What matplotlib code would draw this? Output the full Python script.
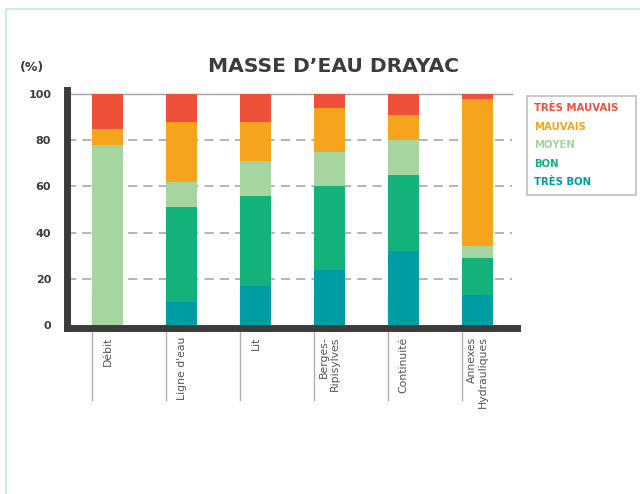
import matplotlib
matplotlib.use("Agg")
import matplotlib.pyplot as plt
from matplotlib.lines import Line2D
from matplotlib.patches import Patch

categories = ["Débit", "Ligne d'eau", "Lit", "Berges-\nRipisylves", "Continuité", "Annexes\nHydrauliques"]
tres_bon = [0, 10, 17, 24, 32, 13]
bon = [0, 41, 39, 36, 33, 16]
moyen = [78, 11, 15, 15, 15, 5]
mauvais = [7, 26, 17, 19, 11, 64]
tres_mauvais = [15, 12, 12, 6, 9, 2]
series_names = ["TRÈS BON", "BON", "MOYEN", "MAUVAIS", "TRÈS MAUVAIS"]
yticks = [0, 20, 40, 60, 80, 100]

colors = ["#009DA4", "#13B27A", "#A6D5A0", "#F6A41D", "#EE5039"]
dark = "#3c3c3c"

W, H = 640, 494
fig = plt.figure(figsize=(6.4, 4.94), dpi=100)

# light blue frame lines
fig.add_artist(Line2D([6 / W, 1], [1 - 9 / H, 1 - 9 / H], transform=fig.transFigure, color="#cbe9ef", lw=1.6))
fig.add_artist(Line2D([6 / W, 6 / W], [0, 1 - 9 / H], transform=fig.transFigure, color="#cbe9ef", lw=1.6))

ax_left, ax_right = 66.5, 517
ax_top, ax_bot = 90.5, 328
ax = fig.add_axes([ax_left / W, 1 - ax_bot / H, (ax_right - ax_left) / W, (ax_bot - ax_top) / H])

x = list(range(len(categories)))
width = 0.42
series = [tres_bon, bon, moyen, mauvais, tres_mauvais]
bottom = [0] * len(categories)
for vals, col, name in zip(series, colors, series_names):
    ax.bar(x, vals, width=width, bottom=bottom, color=col, zorder=3, label=name)
    bottom = [b + v for b, v in zip(bottom, vals)]

ax.set_xlim(-0.557, 5.531)
ax.set_ylim(-1.3, 101.5)

for y in [20, 40, 60, 80]:
    ax.axhline(y, xmin=0, xmax=0.99, color="#a0a0a0", lw=1.1, ls=(0, (6, 4)), zorder=1)
ax.axhline(100, xmin=0, xmax=0.99, color="#a0a0a0", lw=1.0, zorder=1)

# category separator lines
for xi in x:
    ax.plot([xi - width / 2, xi - width / 2], [-32.5, 12.8], color="#b0b0b0", lw=1.0,
            clip_on=False, zorder=0)

for s in ["top", "right"]:
    ax.spines[s].set_visible(False)
for s in ["left", "bottom"]:
    ax.spines[s].set_color(dark)
    ax.spines[s].set_linewidth(5)
    ax.spines[s].set_capstyle("projecting")
    ax.spines[s].set_zorder(4)

ax.set_yticks(yticks)
ax.set_yticklabels([str(t) for t in yticks], fontsize=8, fontweight="bold", color=dark)
ax.tick_params(axis="y", length=0, pad=11)
ax.set_xticks([])

for xi, lab in zip(x, categories):
    ax.text(xi, -5.0, lab, rotation=90, ha="center", va="top", multialignment="right",
            fontsize=7.8, color="#555555", linespacing=1.1)

fig.text(334 / W, 1 - 67 / H, "MASSE D’EAU DRAYAC", ha="center", va="center",
         fontsize=14.6, fontweight="bold", color=dark)
fig.text(20 / W, 1 - 67 / H, "(%)", ha="left", va="center", fontsize=9, fontweight="bold", color=dark)

leg_handles = [Patch(facecolor="none", edgecolor="none") for _ in series_names]
leg = fig.legend(leg_handles[::-1], series_names[::-1], loc="upper left",
                 bbox_to_anchor=(527 / W, 1 - 196 / H, 109 / W, 100 / H),
                 bbox_transform=fig.transFigure, mode="expand",
                 borderaxespad=0, handlelength=0, handletextpad=0, fancybox=False,
                 frameon=True, labelcolor=colors[::-1], labelspacing=0.84, borderpad=0.72,
                 prop={"size": 7.3, "weight": "bold"})
leg.get_frame().set_edgecolor("#b0b0b0")
leg.get_frame().set_linewidth(1.2)

fig.savefig("out.png", dpi=100)
